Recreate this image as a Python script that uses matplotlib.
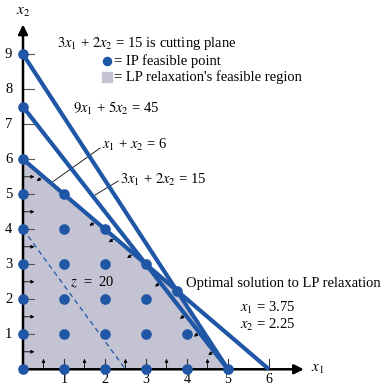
import matplotlib.pyplot as plt
from matplotlib.patches import Polygon

plt.rcParams['font.family'] = ['Liberation Serif', 'DejaVu Serif']
plt.rcParams['mathtext.fontset'] = 'stix'

# LP relaxation feasible region corners
region_x = [0, 0, 3.75, 5]
region_y = [0, 6, 2.25, 0]

# IP feasible points
ip_x = [0, 0, 0, 0, 0, 0, 0, 1, 1, 1, 1, 1, 1, 2, 2, 2, 2, 2, 3, 3, 3, 3, 4, 4, 5]
ip_y = [0, 1, 2, 3, 4, 5, 6, 0, 1, 2, 3, 4, 5, 0, 1, 2, 3, 4, 0, 1, 2, 3, 0, 1, 0]

# constraint lines (endpoints)
lines = {
    '9x1+5x2=45': ([0, 5], [9, 0]),
    'x1+x2=6': ([0, 6], [6, 0]),
    '3x1+2x2=15': ([0, 5], [7.5, 0]),
}
extra_pts_x = [0, 0, 3.75]
extra_pts_y = [9, 7.5, 2.25]

# isoprofit line z = 20
z_x = [0, 2.5]
z_y = [4, 0]

# small direction arrows (start, end)
axis_arrows_y = [0.5, 1.5, 2.5, 3.5, 4.5, 5.5]
axis_arrows_x = [0.5, 1.5, 2.5, 3.5, 4.5]
line_arrows = [((0.50, 5.50), (0.33, 5.38)), ((1.78, 4.22), (1.62, 4.10)),
               ((2.25, 3.75), (2.09, 3.63)), ((2.70, 3.30), (2.54, 3.18)),
               ((3.35, 2.48), (3.22, 2.36)), ((3.96, 1.56), (3.83, 1.44)),
               ((4.30, 1.05), (4.17, 0.93)), ((4.65, 0.52), (4.52, 0.40))]

blue = '#1f56a5'
shade = '#c3c3d3'

fig = plt.figure(figsize=(3.86, 3.87), dpi=100)
ax = fig.add_axes([0, 0, 1, 1])
ax.set_xlim(-0.561, 8.854)
ax.set_ylim(-0.506, 10.55)
ax.axis('off')

ax.add_patch(Polygon(list(zip(region_x, region_y)), closed=True,
                     facecolor=shade, edgecolor='none', zorder=1))

# axes with arrows
ax.annotate('', xy=(6.85, 0), xytext=(0, 0),
            arrowprops=dict(arrowstyle='-|>', color='black', lw=1.8,
                            mutation_scale=14, shrinkA=0, shrinkB=0), zorder=3)
ax.annotate('', xy=(0, 9.85), xytext=(0, 0),
            arrowprops=dict(arrowstyle='-|>', color='black', lw=1.8,
                            mutation_scale=14, shrinkA=0, shrinkB=0), zorder=3)
for i in range(1, 10):
    ax.plot([0, 0.27], [i, i], color='#555555', lw=0.8, zorder=2)
    ax.text(-0.35, i, str(i), ha='center', va='center', fontsize=10.5)
for i in range(1, 7):
    ax.plot([i, i], [0, 0.28], color='#333333', lw=0.8, zorder=2)
    ax.text(i, -0.3, str(i), ha='center', va='center', fontsize=10)
ax.text(7.2, 0, '$x_1$', ha='center', va='center', fontsize=11)
ax.text(0, 10.19, '$x_2$', ha='center', va='center', fontsize=11)

for yv in axis_arrows_y:
    ax.annotate('', xy=(0.28, yv), xytext=(0, yv),
                arrowprops=dict(arrowstyle='-|>', color='black', lw=0.6,
                                mutation_scale=5, shrinkA=0, shrinkB=0))
for xv in axis_arrows_x:
    ax.annotate('', xy=(xv, 0.3), xytext=(xv, 0),
                arrowprops=dict(arrowstyle='-|>', color='black', lw=0.6,
                                mutation_scale=5, shrinkA=0, shrinkB=0))
for s, e in line_arrows:
    ax.annotate('', xy=e, xytext=s,
                arrowprops=dict(arrowstyle='-|>', color='black', lw=0.6,
                                mutation_scale=5, shrinkA=0, shrinkB=0))

for name, (lx, ly) in lines.items():
    ax.plot(lx, ly, color=blue, lw=3.0, solid_capstyle='butt', zorder=4)

ax.plot(z_x, z_y, color=blue, lw=0.9, ls=(0, (4, 3)), zorder=3)

ax.scatter(ip_x, ip_y, s=44, color=blue, zorder=5, clip_on=False)
ax.scatter(extra_pts_x, extra_pts_y, s=44, color=blue, zorder=5)

# leader lines
ax.plot([1.88, 0.73], [6.32, 5.36], color='black', lw=0.6, zorder=3)
ax.plot([2.32, 1.76], [5.38, 4.98], color='black', lw=0.6, zorder=3)

fs = 10.5
ax.text(0.83, 9.32, '$3x_1$ + $2x_2$ = 15 is cutting plane', fontsize=fs, va='center')
ax.scatter([2.05], [8.81], s=34, color=blue)
ax.text(2.22, 8.81, '= IP feasible point', fontsize=fs, va='center')
ax.scatter([2.05], [8.35], s=46, marker='s', color=shade)
ax.text(2.22, 8.35, "= LP relaxation's feasible region", fontsize=fs, va='center')
ax.text(1.22, 7.44, '$9x_1$ + $5x_2$ = 45', fontsize=fs, va='center')
ax.text(1.93, 6.41, '$x_1$ + $x_2$ = 6', fontsize=fs, va='center')
ax.text(2.37, 5.41, '$3x_1$ + $2x_2$ = 15', fontsize=fs, va='center')
ax.text(1.15, 2.47, '$z$  =  20', fontsize=fs, va='center')
ax.text(3.98, 2.44, 'Optimal solution to LP relaxation', fontsize=fs, va='center')
ax.text(5.29, 1.76, '$x_1$ = 3.75', fontsize=fs, va='center')
ax.text(5.29, 1.27, '$x_2$ = 2.25', fontsize=fs, va='center')

fig.savefig('out.png', dpi=100)
